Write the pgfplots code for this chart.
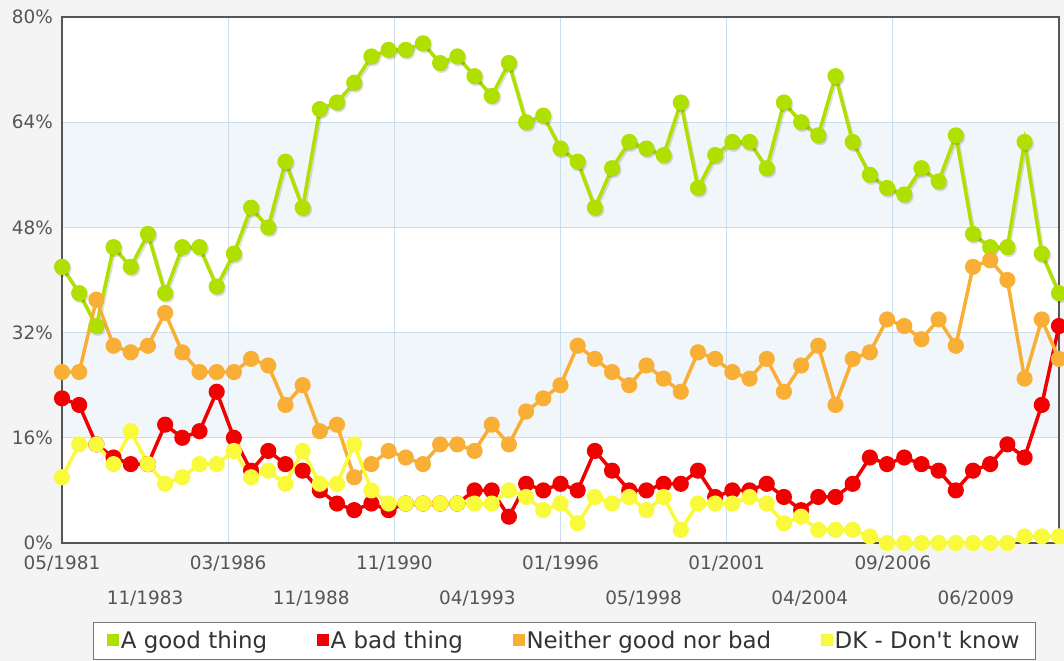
\documentclass[border=0pt]{standalone}
\usepackage{fontspec}
\setmainfont{DejaVu Sans}[Ligatures=TeXOff]
\usepackage{pgfplots}
\pgfplotsset{compat=1.18}
\definecolor{cgood}{HTML}{B0E000}
\definecolor{cbad}{HTML}{F00000}
\definecolor{cneither}{HTML}{F9AE35}
\definecolor{cdk}{HTML}{FAFA3C}
\definecolor{bggray}{HTML}{F4F4F4}
\definecolor{bandblue}{HTML}{F1F6FA}
\definecolor{gridblue}{HTML}{C9DDEC}
\definecolor{framegray}{HTML}{555555}
\definecolor{labelgray}{HTML}{555555}
\definecolor{textdark}{HTML}{333333}
\definecolor{legendgray}{HTML}{777777}

\begin{document}
\begin{tikzpicture}
\begin{axis}[
  at={(62bp,118bp)}, anchor=south west,
  scale only axis, width=997bp, height=526bp,
  xmin=0, xmax=58, ymin=0, ymax=80,
  set layers, clip=false,
  axis line style={draw=framegray, line width=2.5bp},
  ytick={0,16,32,48,64,80},
  yticklabels={0\%,16\%,32\%,48\%,64\%,80\%},
  xtick={0,9.6667,19.3333,29,38.6667,48.3333},
  xticklabels={05/1981,03/1986,11/1990,01/1996,01/2001,09/2006},
  extra x ticks={4.8333,14.5,24.1667,33.8333,43.5,53.1667},
  extra x tick labels={11/1983,11/1988,04/1993,05/1998,04/2004,06/2009},
  extra x tick style={grid=none, xticklabel style={yshift=-35bp}},
  major tick length=0pt,
  grid=major,
  major grid style={draw=gridblue, line width=1bp},
  tick label style={font=\fontsize{18.5}{20}\selectfont, text=labelgray},
  xticklabel style={anchor=north, yshift=-13bp, inner sep=0pt},
  yticklabel style={anchor=east, xshift=-9bp, inner sep=0pt},
  every axis plot/.append style={line width=3.5bp, mark=*, mark size=6.3bp, mark options={solid}},
  legend columns=4,
  legend cell align=left,
  legend style={at={(0.504,-0.150)}, anchor=north, draw=legendgray, fill=white, line width=0.8bp,
    font=\fontsize{23}{25}\selectfont, text=textdark, inner xsep=14bp, inner ysep=7bp,
    /tikz/every even column/.append style={column sep=48bp}},
  legend image code/.code={\fill[#1] (0bp,-4bp) rectangle (8bp,5bp);},
]
\begin{pgfonlayer}{axis background}
\fill[bggray] ([xshift=-62bp,yshift=-118bp]rel axis cs:0,0) rectangle ++(1064bp,661bp);
\fill[white] (axis cs:0,0) rectangle (axis cs:58,80);
\fill[bandblue] (axis cs:0,16) rectangle (axis cs:58,32);
\fill[bandblue] (axis cs:0,48) rectangle (axis cs:58,64);
\end{pgfonlayer}

% shadows
\addplot[black, opacity=0.12, forget plot, xshift=1.5bp, yshift=-2bp] table[x=i, y=v] {
i v
0 42
1 38
2 33
3 45
4 42
5 47
6 38
7 45
8 45
9 39
10 44
11 51
12 48
13 58
14 51
15 66
16 67
17 70
18 74
19 75
20 75
21 76
22 73
23 74
24 71
25 68
26 73
27 64
28 65
29 60
30 58
31 51
32 57
33 61
34 60
35 59
36 67
37 54
38 59
39 61
40 61
41 57
42 67
43 64
44 62
45 71
46 61
47 56
48 54
49 53
50 57
51 55
52 62
53 47
54 45
55 45
56 61
57 44
58 38
};

\addplot[cgood] table[x=i, y=v] {
i v
0 42
1 38
2 33
3 45
4 42
5 47
6 38
7 45
8 45
9 39
10 44
11 51
12 48
13 58
14 51
15 66
16 67
17 70
18 74
19 75
20 75
21 76
22 73
23 74
24 71
25 68
26 73
27 64
28 65
29 60
30 58
31 51
32 57
33 61
34 60
35 59
36 67
37 54
38 59
39 61
40 61
41 57
42 67
43 64
44 62
45 71
46 61
47 56
48 54
49 53
50 57
51 55
52 62
53 47
54 45
55 45
56 61
57 44
58 38
};
\addlegendentry{A good thing}

\addplot[cbad] table[x=i, y=v] {
i v
0 22
1 21
2 15
3 13
4 12
5 12
6 18
7 16
8 17
9 23
10 16
11 11
12 14
13 12
14 11
15 8
16 6
17 5
18 6
19 5
20 6
21 6
22 6
23 6
24 8
25 8
26 4
27 9
28 8
29 9
30 8
31 14
32 11
33 8
34 8
35 9
36 9
37 11
38 7
39 8
40 8
41 9
42 7
43 5
44 7
45 7
46 9
47 13
48 12
49 13
50 12
51 11
52 8
53 11
54 12
55 15
56 13
57 21
58 33
};
\addlegendentry{A bad thing}

\addplot[cneither] table[x=i, y=v] {
i v
0 26
1 26
2 37
3 30
4 29
5 30
6 35
7 29
8 26
9 26
10 26
11 28
12 27
13 21
14 24
15 17
16 18
17 10
18 12
19 14
20 13
21 12
22 15
23 15
24 14
25 18
26 15
27 20
28 22
29 24
30 30
31 28
32 26
33 24
34 27
35 25
36 23
37 29
38 28
39 26
40 25
41 28
42 23
43 27
44 30
45 21
46 28
47 29
48 34
49 33
50 31
51 34
52 30
53 42
54 43
55 40
56 25
57 34
58 28
};
\addlegendentry{Neither good nor bad}

\addplot[cdk] table[x=i, y=v] {
i v
0 10
1 15
2 15
3 12
4 17
5 12
6 9
7 10
8 12
9 12
10 14
11 10
12 11
13 9
14 14
15 9
16 9
17 15
18 8
19 6
20 6
21 6
22 6
23 6
24 6
25 6
26 8
27 7
28 5
29 6
30 3
31 7
32 6
33 7
34 5
35 7
36 2
37 6
38 6
39 6
40 7
41 6
42 3
43 4
44 2
45 2
46 2
47 1
48 0
49 0
50 0
51 0
52 0
53 0
54 0
55 0
56 1
57 1
58 1
};
\addlegendentry{DK - Don't know}
\end{axis}
\pgfresetboundingbox
\useasboundingbox (0,0) rectangle (1064bp,661bp);
\end{tikzpicture}
\end{document}
